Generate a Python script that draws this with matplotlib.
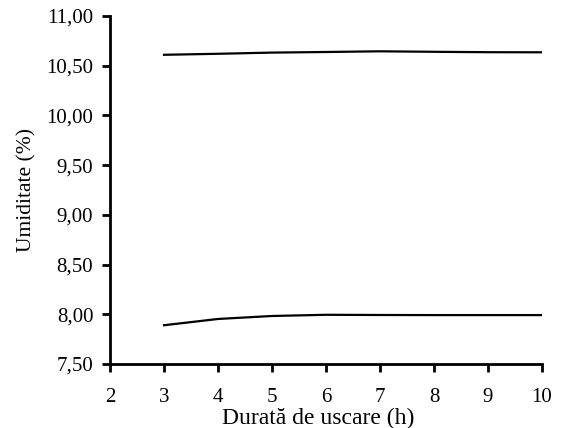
import numpy as np
import matplotlib
matplotlib.use('Agg')
import matplotlib.pyplot as plt
from matplotlib.ticker import FuncFormatter

# durata de uscare (h)
hours = [3, 4, 5, 6, 7, 8, 9, 10]
# umiditate (%)
upper = [10.61, 10.62, 10.632, 10.638, 10.645, 10.64, 10.636, 10.635]
lower = [7.89, 7.953, 7.983, 7.995, 7.993, 7.992, 7.992, 7.992]

plt.rcParams['font.family'] = ['Liberation Serif', 'DejaVu Serif']

fig = plt.figure(figsize=(5.63, 4.28), dpi=100)
ax = fig.add_axes([0.1954, 0.1495, 0.7673, 0.8131])

ax.plot(hours, upper, color='black', lw=1.6)
ax.plot(hours, lower, color='black', lw=1.6)

ax.set_xlim(2, 10)
ax.set_ylim(7.5, 11.0)
ax.set_xticks(range(2, 11))
ax.set_yticks(np.arange(7.5, 11.01, 0.5))
ax.yaxis.set_major_formatter(FuncFormatter(lambda v, p: f'{v:.2f}'.replace('.', ',')))

for s in ['top', 'right']:
    ax.spines[s].set_visible(False)
for s in ['left', 'bottom']:
    ax.spines[s].set_linewidth(2)
ax.tick_params(direction='out', length=6, width=2, labelsize=15, pad=6)
ax.tick_params(axis='x', pad=11)

ax.set_xlabel('Durată de uscare (h)', fontsize=17)
ax.xaxis.set_label_coords(0.483, -0.126)
ax.set_ylabel('Umiditate (%)', fontsize=15.5)
ax.yaxis.set_label_coords(-0.171, 0.5)

fig.savefig('out.png', dpi=100)
